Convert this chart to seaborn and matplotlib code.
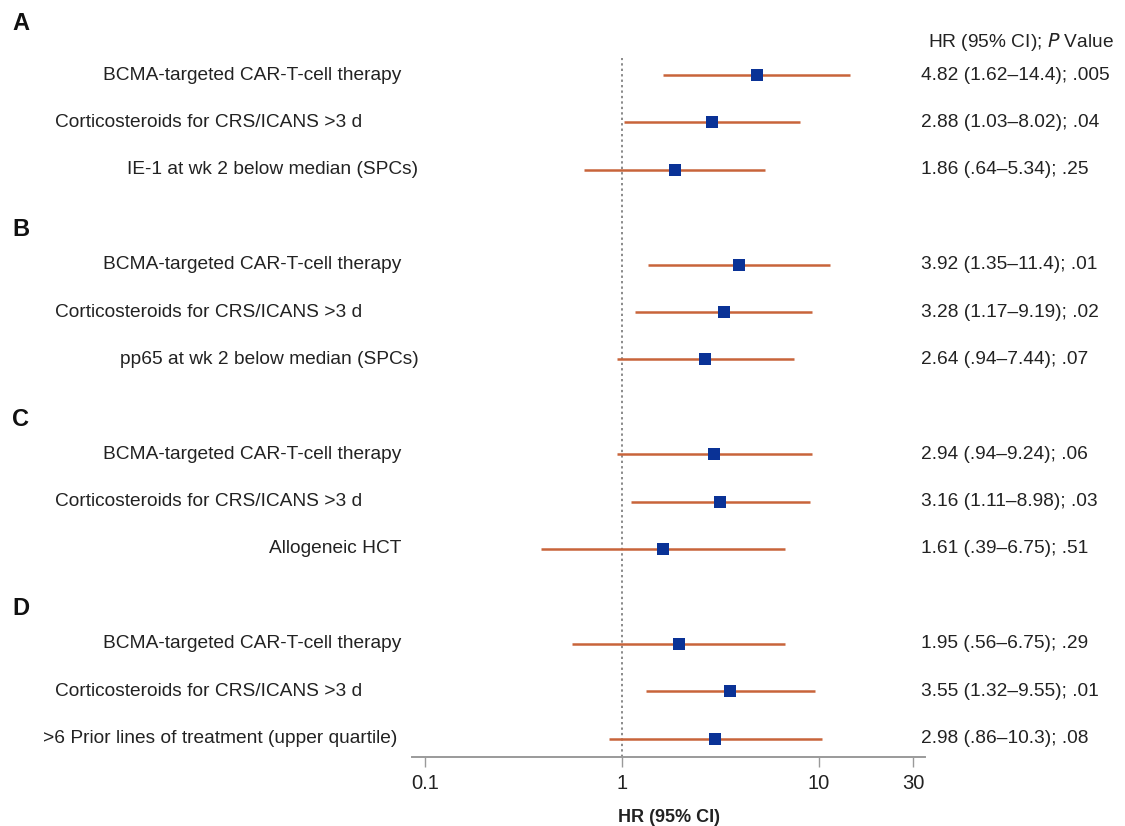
import numpy as np
import pandas as pd
import matplotlib
matplotlib.use("Agg")
import matplotlib.pyplot as plt
import matplotlib.transforms as mtransforms
import seaborn as sns

OUT_PATH = "out.png"

# ---- data ---------------------------------------------------------------
panels = ["A", "B", "C", "D"]

labels_A = ["BCMA-targeted CAR-T-cell therapy",
            "Corticosteroids for CRS/ICANS >3 d",
            "IE-1 at wk 2 below median (SPCs)"]
labels_B = ["BCMA-targeted CAR-T-cell therapy",
            "Corticosteroids for CRS/ICANS >3 d",
            "pp65 at wk 2 below median (SPCs)"]
labels_C = ["BCMA-targeted CAR-T-cell therapy",
            "Corticosteroids for CRS/ICANS >3 d",
            "Allogeneic HCT"]
labels_D = ["BCMA-targeted CAR-T-cell therapy",
            "Corticosteroids for CRS/ICANS >3 d",
            ">6 Prior lines of treatment (upper quartile)"]

hr = [4.82, 2.88, 1.86,
      3.92, 3.28, 2.64,
      2.94, 3.16, 1.61,
      1.95, 3.55, 2.98]
ci_low = [1.62, 1.03, 0.64,
          1.35, 1.17, 0.94,
          0.94, 1.11, 0.39,
          0.56, 1.32, 0.86]
ci_high = [14.4, 8.02, 5.34,
           11.4, 9.19, 7.44,
           9.24, 8.98, 6.75,
           6.75, 9.55, 10.3]
p_values = [".005", ".04", ".25",
            ".01", ".02", ".07",
            ".06", ".03", ".51",
            ".29", ".01", ".08"]

x_ticks = [0.1, 1, 10, 30]
x_tick_labels = ["0.1", "1", "10", "30"]

# left edge of each row label in pixels (layout only)
label_left_px = [103, 55, 127,
                 103, 55, 120,
                 103, 55, 269,
                 103, 55, 43]

# ---- table --------------------------------------------------------------
all_labels = labels_A + labels_B + labels_C + labels_D
rows = []
for g, panel in enumerate(panels):
    for k in range(3):
        rows.append((panel, g * 4 + k))
df = pd.DataFrame({
    "panel": [r[0] for r in rows],
    "row": [r[1] for r in rows],
    "label": all_labels,
    "hr": hr,
    "lo": ci_low,
    "hi": ci_high,
    "p": p_values,
})


def fmt(v):
    s = f"{v:.3g}"
    if s.startswith("0."):
        s = s[1:]
    return s


df["text"] = [f"{fmt(h)} ({fmt(l)}\u2013{fmt(u)}); {p}"
              for h, l, u, p in zip(df.hr, df.lo, df.hi, df.p)]

# ---- figure -------------------------------------------------------------
sns.set_theme(style="white")
plt.rcParams["font.family"] = ["Liberation Sans", "DejaVu Sans"]

W, H = 1125, 826
fig = plt.figure(figsize=(W / 100, H / 100), dpi=100)
ax = fig.add_axes([412 / W, 1 - 757 / H, (925 - 412) / W, (757 - 58) / H])

line_color = "#C8643A"
marker_color = "#0A3296"

ax.axvline(1, color="#8a8a8a", linestyle=(0, (1.2, 1.6)), lw=1.4, zorder=1)
ax.hlines(df["row"], df["lo"], df["hi"], color=line_color, lw=1.8, zorder=2)
sns.scatterplot(data=df, x="hr", y="row", marker="s", s=85,
                color=marker_color, edgecolor=marker_color, linewidth=0,
                ax=ax, zorder=3, legend=False)

ax.set_xscale("log")
ax.set_xlim(0.086, 34.5)
ax.set_ylim(14.39, -0.36)
ax.set_xticks(x_ticks)
ax.set_xticklabels(x_tick_labels, fontsize=14.5, color="#222222")
ax.xaxis.set_minor_locator(matplotlib.ticker.NullLocator())
ax.tick_params(axis="x", direction="out", length=7, width=1,
               color="#9a9a9a", pad=5, bottom=True)
ax.set_yticks([])
ax.set_ylabel("")
ax.set_xlabel("HR (95% CI)", fontsize=13, fontweight="bold",
              color="#222222", labelpad=12)
for side in ["left", "right", "top"]:
    ax.spines[side].set_visible(False)
ax.spines["bottom"].set_color("#9a9a9a")
ax.spines["bottom"].set_linewidth(1.4)

trans = mtransforms.blended_transform_factory(fig.transFigure, ax.transData)

for i, r in df.iterrows():
    ax.text(label_left_px[i] / W, r["row"], r["label"], transform=trans,
            ha="left", va="center", fontsize=13.8, color="#222222",
            clip_on=False)
    ax.text(921 / W, r["row"], r["text"], transform=trans,
            ha="left", va="center", fontsize=13.8, color="#222222",
            clip_on=False)

header_offsets = [-1.08, -0.74, -0.74, -0.74]
for g, panel in enumerate(panels):
    ax.text(12 / W, g * 4 + header_offsets[g], panel, transform=trans,
            ha="left", va="center", fontsize=17, fontweight="bold",
            color="#111111", clip_on=False)

ax.text(928 / W, -0.7, "HR (95% CI); $\\it{P}$ Value", transform=trans,
        ha="left", va="center", fontsize=13.8, color="#222222", clip_on=False)

fig.savefig(OUT_PATH, dpi=100)
plt.close(fig)
